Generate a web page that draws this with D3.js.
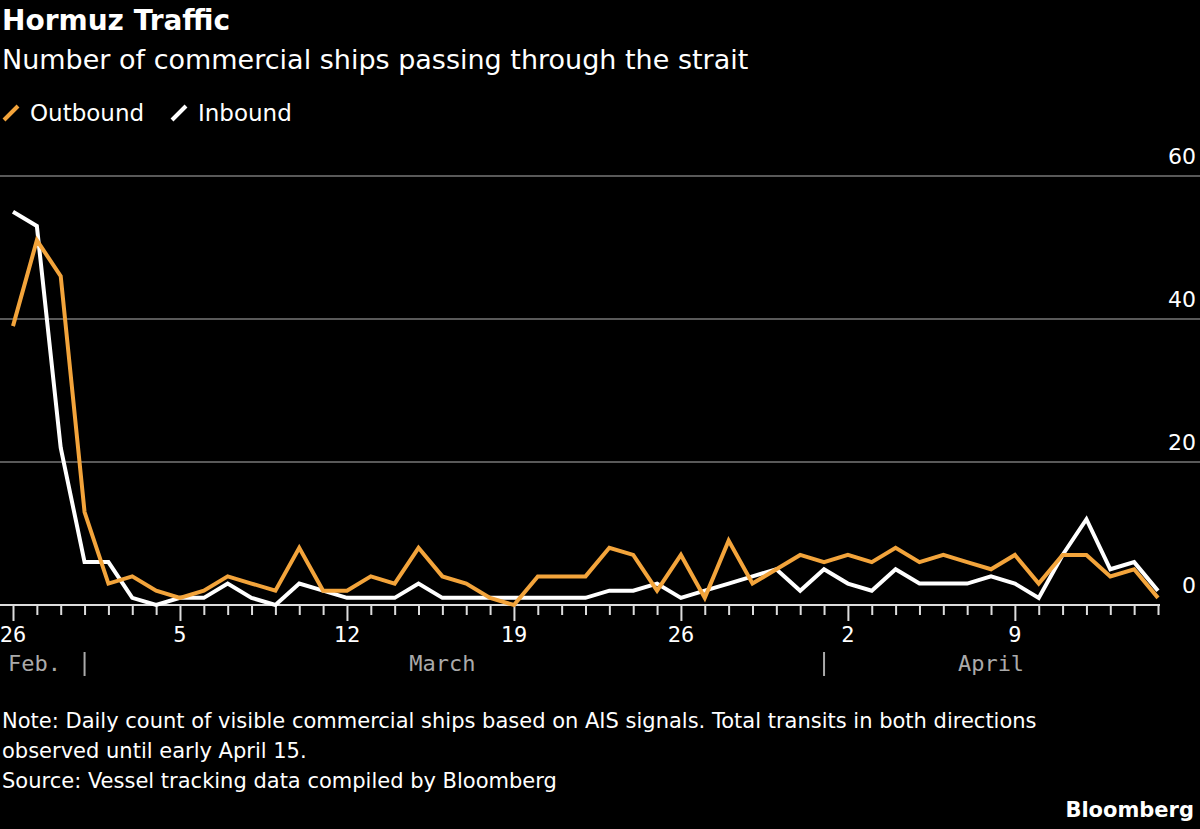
<!DOCTYPE html>
<html>
<head>
<meta charset="utf-8">
<script src="https://cdn.jsdelivr.net/npm/d3@7"></script>
<style>
  body { margin: 0; background: #000; }
  svg { display: block; }
</style>
</head>
<body>
<svg id="chart" width="1200" height="829"></svg>
<script>
// Daily counts, Feb 26 - Apr 15
const startDate = new Date(2026, 1, 26);
const outbound = [39, 51, 46, 13, 3, 4, 2, 1, 2, 4, 3, 2, 8, 2, 2, 4, 3, 8, 4, 3, 1, 0, 4, 4, 4, 8, 7, 2, 7, 1, 9, 3, 5, 7, 6, 7, 6, 8, 6, 7, 6, 5, 7, 3, 7, 7, 4, 5, 1];
const inbound = [55, 53, 22, 6, 6, 1, 0, 1, 1, 3, 1, 0, 3, 2, 1, 1, 1, 3, 1, 1, 1, 1, 1, 1, 1, 2, 2, 3, 1, 2, 3, 4, 5, 2, 5, 3, 2, 5, 3, 3, 3, 4, 3, 1, 7, 12, 5, 6, 2];
const yTicks = [0, 20, 40, 60];
const dayLabels = [new Date(2026, 1, 26), new Date(2026, 2, 5), new Date(2026, 2, 12), new Date(2026, 2, 19), new Date(2026, 2, 26), new Date(2026, 3, 2), new Date(2026, 3, 9)];
const months = [
    { label: 'Feb.', date: new Date(2026, 1, 26) },
    { label: 'March', date: new Date(2026, 2, 16) },
    { label: 'April', date: new Date(2026, 3, 8) }
];
const monthBreaks = [new Date(2026, 2, 1), new Date(2026, 3, 1)];

const ORANGE = '#f3a43b';
const FONT = '"DejaVu Sans", sans-serif';
const MONO = '"DejaVu Sans Mono", monospace';

const dates = outbound.map((_, i) => d3.timeDay.offset(startDate, i));

const svg = d3.select('#chart');

const x = d3.scaleTime()
    .domain([dates[0], dates[dates.length - 1]])
    .range([13, 1158]);
const y = d3.scaleLinear().domain([0, 60]).range([605, 176]);

// Titles
svg.append('text').attr('x', 2).attr('y', 30)
    .attr('font-family', FONT).attr('font-weight', 'bold').attr('font-size', 28)
    .attr('fill', '#fff').text('Hormuz Traffic');
svg.append('text').attr('x', 2).attr('y', 69)
    .attr('font-family', FONT).attr('font-size', 27)
    .attr('fill', '#fff').text('Number of commercial ships passing through the strait');

// Legend
const legend = [{ name: 'Outbound', color: ORANGE, x: 4 }, { name: 'Inbound', color: '#fff', x: 172 }];
legend.forEach(l => {
    svg.append('line').attr('x1', l.x).attr('y1', 120).attr('x2', l.x + 14).attr('y2', 106)
        .attr('stroke', l.color).attr('stroke-width', 4);
    svg.append('text').attr('x', l.x + 26).attr('y', 121)
        .attr('font-family', FONT).attr('font-size', 23).attr('fill', '#fff').text(l.name);
});

// Gridlines + y labels
yTicks.forEach(t => {
    if (t > 0) {
        svg.append('line').attr('x1', 0).attr('x2', 1200).attr('y1', y(t)).attr('y2', y(t))
            .attr('stroke', '#777').attr('stroke-width', 1.5);
    }
    svg.append('text').attr('x', 1196).attr('y', y(t) - 12)
        .attr('text-anchor', 'end').attr('font-family', FONT).attr('font-size', 22)
        .attr('fill', '#fff').text(t);
});

// X axis
const xAxis = svg.append('g').attr('transform', 'translate(0,605)')
    .call(d3.axisBottom(x).ticks(d3.timeDay.every(1)).tickSize(10).tickFormat(''));
xAxis.select('.domain').attr('stroke', '#ddd').attr('stroke-width', 2).attr('d', 'M0,0H1160');
xAxis.selectAll('.tick line').attr('stroke', '#ddd').attr('stroke-width', 2);

const labelKeys = dayLabels.map(d => +d);
xAxis.selectAll('.tick line').filter(d => labelKeys.includes(+d)).attr('y2', 16);

dayLabels.forEach(d => {
    svg.append('text').attr('x', x(d)).attr('y', 642)
        .attr('text-anchor', 'middle').attr('font-family', MONO).attr('font-size', 22)
        .attr('fill', '#fff').text(d3.timeFormat('%-d')(d));
});
months.forEach(m => {
    svg.append('text').attr('x', m.label === 'Feb.' ? 8 : x(m.date)).attr('y', 671)
        .attr('text-anchor', m.label === 'Feb.' ? 'start' : 'middle')
        .attr('font-family', MONO).attr('font-size', 22).attr('fill', '#aaa').text(m.label);
});
monthBreaks.forEach(d => {
    svg.append('line').attr('x1', x(d)).attr('x2', x(d)).attr('y1', 652).attr('y2', 676)
        .attr('stroke', '#aaa').attr('stroke-width', 2);
});

// Lines
const line = d3.line().x((d, i) => x(dates[i])).y(d => y(d));
svg.append('path').datum(inbound).attr('d', line)
    .attr('fill', 'none').attr('stroke', '#fff').attr('stroke-width', 4).attr('stroke-linejoin', 'miter');
svg.append('path').datum(outbound).attr('d', line)
    .attr('fill', 'none').attr('stroke', ORANGE).attr('stroke-width', 4).attr('stroke-linejoin', 'miter');

// Notes
const notes = [
    'Note: Daily count of visible commercial ships based on AIS signals. Total transits in both directions',
    'observed until early April 15.',
    'Source: Vessel tracking data compiled by Bloomberg'
];
notes.forEach((n, i) => {
    svg.append('text').attr('x', 2).attr('y', 728 + i * 30)
        .attr('font-family', FONT).attr('font-size', 21).attr('fill', '#fff').text(n);
});
svg.append('text').attr('x', 1194).attr('y', 817).attr('text-anchor', 'end')
    .attr('font-family', FONT).attr('font-weight', 'bold').attr('font-size', 21)
    .attr('fill', '#fff').text('Bloomberg');
</script>
</body>
</html>
